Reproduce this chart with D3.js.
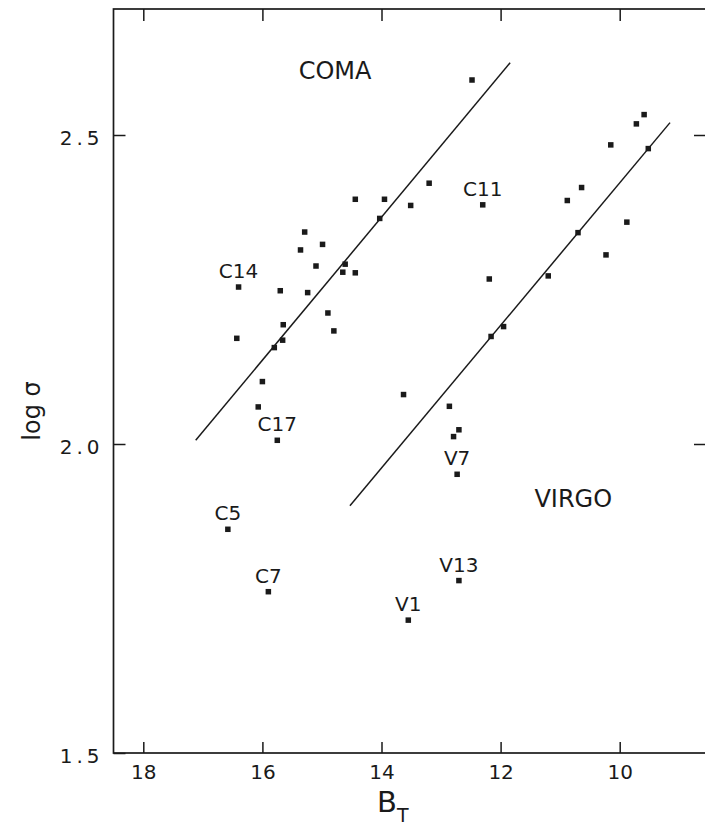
<!DOCTYPE html>
<html>
<head>
<meta charset="utf-8">
<script src="https://cdn.jsdelivr.net/npm/d3@7"></script>
<style>
  html, body { margin: 0; padding: 0; background: #fff; }
  svg { display: block; }
  text { font-family: "DejaVu Sans", sans-serif; fill: #1a1a1a; }
</style>
</head>
<body>
<div id="plot"></div>
<script>
(function() {
"use strict";

// B_T magnitude vs log sigma
const COMA = [
  [12.48, 2.589, ""], [13.20, 2.422, ""], [14.44, 2.396, ""], [13.95, 2.396, ""],
  [13.51, 2.386, ""], [12.30, 2.387, "C11"], [14.03, 2.365, ""], [15.29, 2.343, ""],
  [14.99, 2.323, ""], [15.36, 2.314, ""], [15.10, 2.288, ""], [14.61, 2.291, ""],
  [14.65, 2.278, ""], [14.44, 2.277, ""], [16.40, 2.254, "C14"], [15.70, 2.248, ""],
  [15.24, 2.245, ""], [14.90, 2.212, ""], [15.65, 2.193, ""], [14.80, 2.183, ""],
  [16.43, 2.171, ""], [15.66, 2.168, ""], [15.80, 2.156, ""], [16.00, 2.101, ""],
  [16.07, 2.060, ""], [15.75, 2.006, "C17"], [16.58, 1.862, "C5"], [15.90, 1.761, "C7"]
];

const VIRGO = [
  [9.59, 2.533, ""], [9.72, 2.518, ""], [10.15, 2.484, ""], [9.52, 2.478, ""],
  [10.64, 2.415, ""], [10.88, 2.394, ""], [9.88, 2.359, ""], [10.70, 2.342, ""],
  [10.23, 2.306, ""], [11.20, 2.272, ""], [12.19, 2.267, ""], [11.95, 2.190, ""],
  [12.16, 2.174, ""], [13.63, 2.080, ""], [12.86, 2.061, ""], [12.70, 2.023, ""],
  [12.79, 2.012, ""], [12.73, 1.951, "V7"], [12.70, 1.779, "V13"], [13.55, 1.715, "V1"]
];

const COMA_LINE = [[17.12, 2.006], [11.84, 2.617]];
const VIRGO_LINE = [[14.53, 1.900], [9.155, 2.520]];

const CLUSTER_LABELS = [["COMA", 14.78, 2.591], ["VIRGO", 10.78, 1.898]];

const X_TICKS = [18, 16, 14, 12, 10];
const Y_TICKS = [1.5, 2.0, 2.5];

const WIDTH = 705;
const HEIGHT = 827;
const LEFT = 113.5;
const RIGHT = 709;
const TOP = 9;
const BOTTOM = 753;
const INK = "#1a1a1a";

const x = d3.scaleLinear().domain([18, 10]).range([143.3, 619.7]);
const y = d3.scaleLinear().domain([1.5, 2.5]).range([BOTTOM, 135]);

const svg = d3.select("#plot")
  .append("svg")
  .attr("width", WIDTH)
  .attr("height", HEIGHT);

// frame (right side runs off the page like in the scan)
svg.append("rect")
  .attr("x", LEFT)
  .attr("y", TOP)
  .attr("width", RIGHT - LEFT)
  .attr("height", BOTTOM - TOP)
  .attr("fill", "none")
  .attr("stroke", INK)
  .attr("stroke-width", 1.7);

function styleAxis(g) {
  g.select(".domain").remove();
  g.selectAll(".tick line").attr("stroke", INK).attr("stroke-width", 1.5);
  g.selectAll(".tick text").attr("fill", INK).style("font-size", "20px");
}

svg.append("g")
  .attr("transform", `translate(0,${BOTTOM})`)
  .call(d3.axisBottom(x).tickValues(X_TICKS).tickSize(-11).tickPadding(12).tickFormat(d3.format("d")))
  .call(styleAxis);

svg.append("g")
  .attr("transform", `translate(0,${TOP})`)
  .call(d3.axisTop(x).tickValues(X_TICKS).tickSize(-12).tickFormat(""))
  .call(styleAxis);

svg.append("g")
  .attr("transform", `translate(${LEFT},0)`)
  .call(d3.axisLeft(y).tickValues(Y_TICKS).tickSize(-12).tickPadding(10).tickFormat(d3.format(".1f")))
  .call(styleAxis)
  .call(g => g.selectAll(".tick text").style("letter-spacing", "4px").attr("dy", "0.45em"));

svg.append("g")
  .attr("transform", `translate(${RIGHT},0)`)
  .call(d3.axisRight(y).tickValues(Y_TICKS.slice(1)).tickSize(-15).tickFormat(""))
  .call(styleAxis);

// axis titles
const xTitle = svg.append("text")
  .attr("x", 377)
  .attr("y", 812)
  .style("font-size", "29px");
xTitle.append("tspan").text("B");
xTitle.append("tspan").attr("dy", 10).style("font-size", "19px").text("T");

svg.append("text")
  .attr("transform", "translate(40,411) rotate(-90)")
  .attr("text-anchor", "middle")
  .style("font-size", "24px")
  .text("log σ");

// fit lines
const line = d3.line().x(d => x(d[0])).y(d => y(d[1]));
svg.selectAll("path.fit")
  .data([COMA_LINE, VIRGO_LINE])
  .enter()
  .append("path")
    .attr("class", "fit")
    .attr("d", line)
    .attr("fill", "none")
    .attr("stroke", INK)
    .attr("stroke-width", 1.5);

// galaxies
const all = COMA.concat(VIRGO);
svg.selectAll("rect.dot")
  .data(all)
  .enter()
  .append("rect")
    .attr("class", "dot")
    .attr("x", d => x(d[0]) - 2.75)
    .attr("y", d => y(d[1]) - 2.75)
    .attr("width", 5.5)
    .attr("height", 5.5)
    .attr("fill", INK);

svg.selectAll("text.name")
  .data(all.filter(d => d[2]))
  .enter()
  .append("text")
    .attr("class", "name")
    .attr("x", d => x(d[0]))
    .attr("y", d => y(d[1]) - 9)
    .attr("text-anchor", "middle")
    .style("font-size", "20px")
    .text(d => d[2]);

svg.selectAll("text.cluster")
  .data(CLUSTER_LABELS)
  .enter()
  .append("text")
    .attr("class", "cluster")
    .attr("x", d => x(d[1]))
    .attr("y", d => y(d[2]))
    .attr("text-anchor", "middle")
    .style("font-size", "24px")
    .text(d => d[0]);

})();
</script>
</body>
</html>
